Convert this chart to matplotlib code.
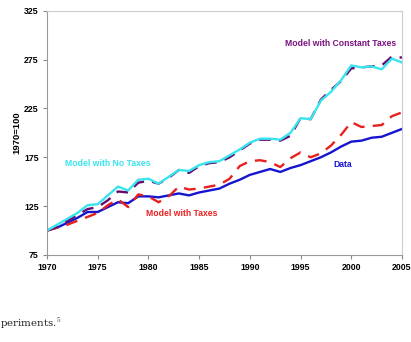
import numpy as np
import matplotlib
matplotlib.use("Agg")
import matplotlib.pyplot as plt

years = np.arange(1970, 2006)

data = [100, 103, 108, 113, 119, 119, 124, 129, 128, 135, 135, 134,
        136, 138, 136, 139, 141, 143, 148, 152, 157, 160, 163, 160,
        164, 167, 171, 175, 180, 186, 191, 192, 195, 196, 200, 204]

model_taxes = [100, 103, 106, 110, 114, 118, 126, 132, 124, 137, 135, 129,
               135, 145, 142, 143, 145, 147, 153, 166, 171, 172, 170, 165,
               174, 180, 175, 179, 187, 198, 211, 206, 207, 208, 217, 221]

model_no_taxes = [100, 106, 112, 118, 126, 127, 136, 145, 141, 152, 153, 148,
                  155, 162, 161, 167, 170, 171, 177, 183, 190, 194, 194, 193,
                  200, 215, 214, 233, 242, 254, 269, 267, 268, 265, 276, 272]

model_const_taxes = [100, 104, 110, 116, 122, 124, 131, 140, 139, 149, 151, 148,
                     154, 162, 159, 166, 169, 170, 175, 182, 189, 193, 193, 192,
                     197, 215, 214, 234, 244, 253, 266, 267, 268, 269, 278, 277]

c_data = "#1515d0"
c_tax = "#e82020"
c_none = "#38e4ee"
c_const = "#660a70"

plt.rcParams["font.family"] = ["Liberation Sans", "DejaVu Sans"]

fig = plt.figure(figsize=(4.11, 3.42), dpi=100)
ax = fig.add_axes([47 / 411, 1 - 255 / 342, 355 / 411, 244.3 / 342])

ax.plot(years, data, color=c_data, lw=1.7)
ax.plot(years, model_taxes, color=c_tax, lw=1.7, dashes=(5, 3.5))
ax.plot(years, model_const_taxes, color=c_const, lw=1.7, dashes=(5, 3.5))
ax.plot(years, model_no_taxes, color=c_none, lw=1.7)

ax.set_xlim(1970, 2005)
ax.set_ylim(75, 325)
ax.set_xticks(range(1970, 2006, 5))
ax.set_yticks(range(75, 326, 50))
ax.tick_params(labelsize=6.3, length=3, width=0.8, color="#888888", pad=3)
for lab in ax.get_xticklabels() + ax.get_yticklabels():
    lab.set_fontweight("bold")
for s in ax.spines.values():
    s.set_color("#999999")
    s.set_linewidth(0.8)
ax.spines["top"].set_color("#cccccc")
ax.spines["right"].set_color("#cccccc")

ax.set_ylabel("1970=100", fontsize=6.8, fontweight="bold", labelpad=2)

kw = dict(fontsize=6.2, fontweight="bold", va="center", ha="center")
ax.text(1998.9, 291, "Model with Constant Taxes", color="#7a1080", **kw)
ax.text(1976.0, 169, "Model with No Taxes", color=c_none, **kw)
ax.text(1983.3, 117, "Model with Taxes", color=c_tax, **kw)
ax.text(1999.2, 168, "Data", color=c_data, **kw)

fig.text(0.0, 1 - 327 / 342, r"periments.$^5$", fontsize=7.4,
         family="DejaVu Serif", color="#222222", va="baseline", ha="left",
         math_fontfamily="cm")

fig.savefig("out.png", dpi=100)
